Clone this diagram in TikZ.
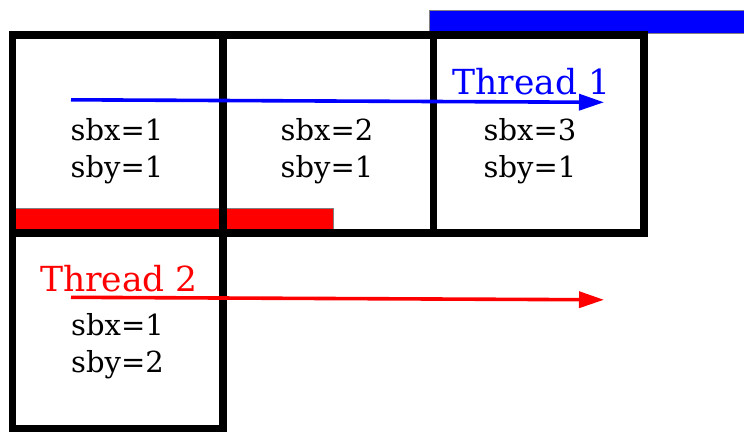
\documentclass[tikz,border=0pt]{standalone}
\usepackage{fontspec}
\setmainfont{DejaVu Serif}
\usetikzlibrary{arrows.meta}
\definecolor{barblue}{RGB}{0,0,255}
\definecolor{barred}{RGB}{255,0,0}
\tikzset{
  cell/.style={draw=black, line width=7.5pt, inner sep=0pt, outer sep=0pt,
    minimum width=210.5pt, minimum height=198pt},
  celltext/.style={align=center, inner sep=0pt,
    font=\fontsize{29}{37.5}\selectfont},
  threadlabel/.style={anchor=base, inner sep=0pt,
    font=\fontsize{34.5}{38}\selectfont},
  bar/.style={draw=gray, line width=1pt},
  threadarrow/.style={line width=3.6pt, -{Triangle[length=25pt,width=16pt]}}
}
\begin{document}
\begin{tikzpicture}[x=1pt,y=-1pt]
\useasboundingbox (0,0) rectangle (744,432);

% shared-memory bars
\fill[barblue, bar] (429,10) rectangle (750,33);
\fill[barred, bar] (14,208) rectangle (333,229);

% thread-block cells
\node[cell] (c11) at (117.75,134) {};
\node[cell] (c21) at (328.25,134) {};
\node[cell] (c31) at (538.75,134) {};
\node[cell, minimum height=195.5pt] (c12) at (117.75,330.75) {};

% block indices
\node[celltext] (t11) at (117,151) {sbx=1\\sby=1};
\node[celltext] (t21) at (327,151) {sbx=2\\sby=1};
\node[celltext] (t31) at (530,151) {sbx=3\\sby=1};
\node[celltext] (t12) at (117.5,346) {sbx=1\\sby=2};

% thread labels
\node[threadlabel, text=barblue] (th1) at (531.5,94) {Thread 1};
\node[threadlabel, text=barred] (th2) at (119,291.7) {Thread 2};

% thread sweeps
\coordinate (b0) at (71,99.8);
\coordinate (b1) at (604,102.3);
\coordinate (r0) at (71,297.3);
\coordinate (r1) at (604,299.8);
\draw[threadarrow, barblue] (b0) -- (b1);
\draw[threadarrow, barred] (r0) -- (r1);
\end{tikzpicture}
\end{document}
